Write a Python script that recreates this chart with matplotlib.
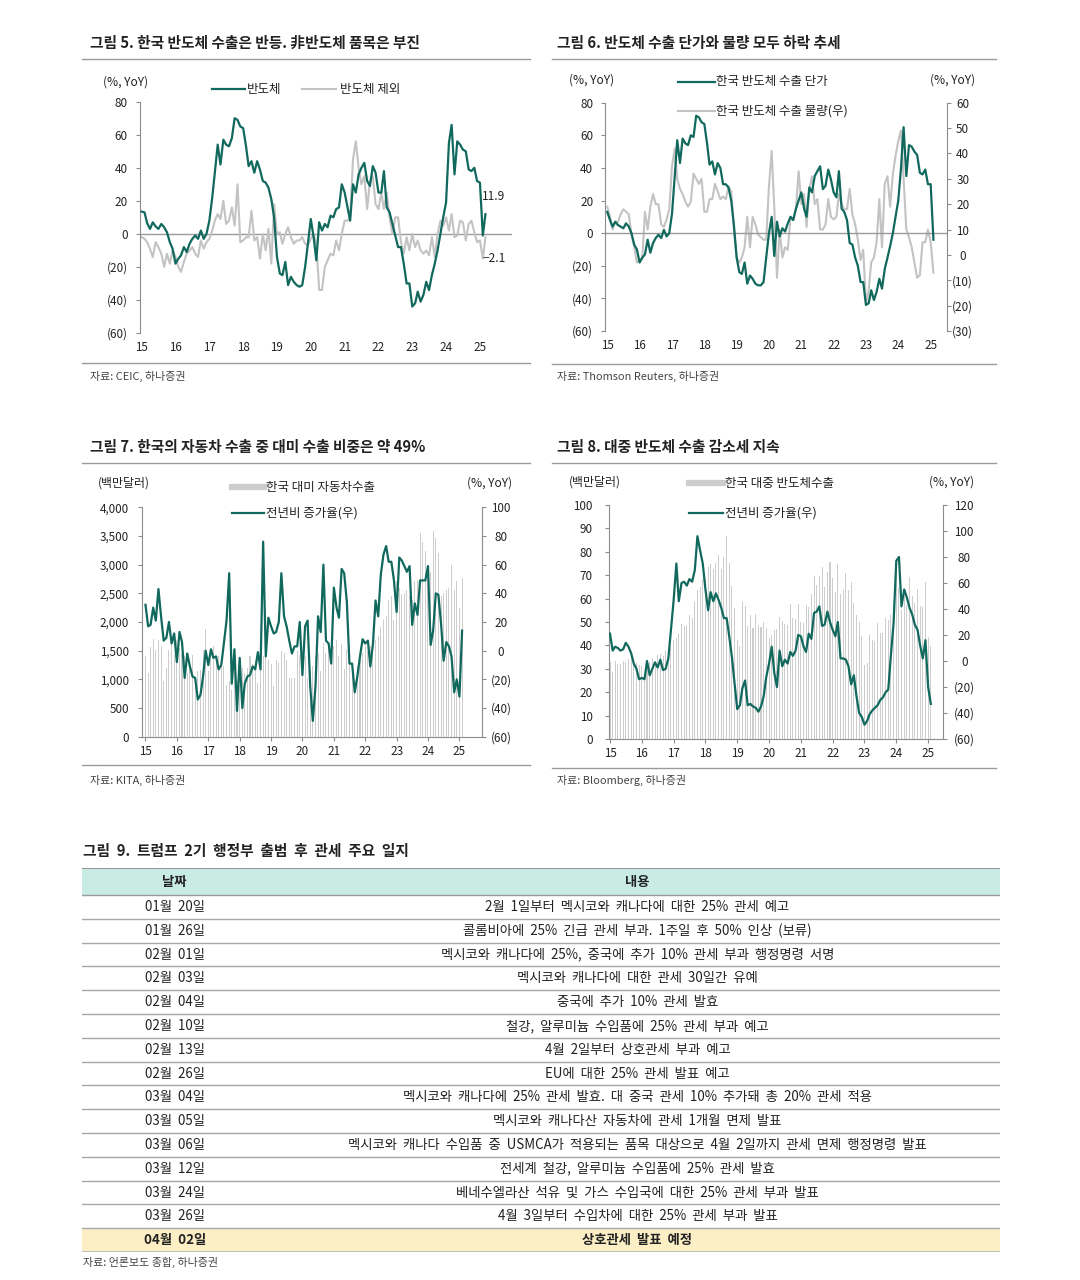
import numpy as np
import pandas as pd
import matplotlib
matplotlib.use("Agg")
import matplotlib.pyplot as plt
from matplotlib.lines import Line2D
from matplotlib.patches import Rectangle
from matplotlib.ticker import FuncFormatter

plt.rcParams['font.family'] = ['Noto Sans CJK KR', 'DejaVu Sans']

W, H = 1080, 1280
GREEN = '#11695d'
LGRAY = '#c3c3c3'
BAR = '#cdcdcd'
SPINE = '#8c8c8c'
TXT = '#222222'
TITLE_FS = 10.6
LEG_FS = 9.0
SRC_FS = 7.9
TAB_FS = 9.6

# ---- 그림 5: 반도체 / 반도체 제외 (%, YoY), 2015-01 ~ 2025-03
semi5 = [13.5, 13, 6.5, 3, 7, 4.5, 3, 6, 4, 1, -5, -9,
         -18, -15, -13, -8, -11, -6, -3, -1, -3, 2, -3, 0,
         8, 22, 37, 54, 42, 57, 54, 53, 58, 70, 69, 65,
         64, 53, 41, 44, 37, 44, 39, 32, 31, 28, 21, 10,
         -14, -24, -25, -17, -31, -26, -29, -31, -32, -31, -20, -6,
         9, -2, -16, 7, 2, 6, 4, 11, 10, 15, 16, 30,
         25, 16, 8, 30, 25, 36, 40, 43, 32, 29, 41, 37,
         25, 25, 38, 16, 13, 6, -1, -8, -8, -18, -30, -30,
         -44, -42, -35, -41, -37, -29, -34, -25, -18, -10, 0, 10,
         19, 55, 66, 36, 56, 54, 51, 50, 39, 38, 40, 32,
         31, -1, 11.9]
non_semi5 = [-2, -3, -5, -9, -14, -5, -8, -12, -20, -12, -18, -10,
             -14, -20, -23, -17, -12, -10, -8, -12, -14, -4, -9, -5,
             -3, 2, 8, 12, 9, 20, 6, 8, 16, 5, 30, -5,
             -4, -2, -2, 14, -4, -2, -15, 0, -10, 3, -18, 18,
             0, 1, -6, 0, 4, -2, -6, -4, -4, -2, -6, -7,
             -3, 0, -6, -34, -34, -20, -16, -12, -13, -4, -10, 0,
             8, 8, 10, 45, 56, 40, 30, 35, 15, 32, 35, 18,
             15, 25, 15, 25, 10, 0, 10, 10, -5, -12, -2, -10,
             0, -8, -4, -10, -12, -10, -13, -2, -14, 0, 8, 5,
             10, 2, 12, -2, -1, 8, 7, -4, 6, 8, 1, -5,
             -4, -15, -2.1]

# ---- 그림 6: 수출 단가 (좌) / 수출 물량 (우), 2015-01 ~ 2025-02
price6 = [13, 8, 4, 7, 5, 4, 3, 6, 4, 0, -7, -10,
          -18, -15, -13, -4, -12, -6, -3, -1, -3, 2, -2, 0,
          12, 35, 57, 43, 58, 55, 54, 60, 59, 72, 71, 68,
          67, 55, 42, 44, 36, 43, 40, 30, 30, 28, 20, 5,
          -15, -24, -25, -18, -31, -26, -28, -31, -32, -32, -30, -15,
          0, 10, -14, 7, -2, 3, 1, 6, 10, 8, 15, 20,
          25, 15, 10, 28, 25, 35, 38, 41, 27, 29, 39, 33,
          25, 22, 38, 15, 13, 8, -6, -7, -15, -20, -30, -30,
          -44, -43, -35, -41, -36, -28, -34, -22, -15, -8, 0, 10,
          20, 40, 65, 35, 54, 53, 50, 48, 37, 36, 39, 30,
          30, -4]
volume6 = [19, 15, 10, 13, 13, 16, 18, 17, 16, 8, 3, -3,
           -2, -1, 17, 10, 19, 24, 20, 20, 12, 11, 14, 18,
           35, 42, 30, 26, 24, 21, 19, 21, 32, 30, 28, 30,
           17, 17, 22, 22, 28, 25, 22, 23, 22, 27, 25, 10,
           -1, -3, -1, 3, 15, 3, 15, 12, 8, 7, 6, 6,
           27, 41, 19, -9, 10, -1, 3, 2, 15, 14, 18, 33,
           20, 24, 11, 26, 31, 20, 22, 10, 10, 12, 22, 15,
           14, 15, 24, 20, 18, 18, 26, 16, 12, 6, -2, 2,
           -19, -14, -3, -1, 5, 22, 3, 28, 31, 19, 32, 39,
           45, 49, 30, 10, 7, 3, -3, -9, -8, 5, 5, 10,
           5, -7]

# ---- 그림 7: 대미 자동차수출 (백만달러) / 전년비 증가율 (우)
car_us7 = [1400, 1110, 1560, 1700, 1520, 1680, 1580, 970, 1190, 1520,
           1600, 1430, 1690, 1550, 1450, 1400, 1110, 1340, 1430, 970,
           1140, 1170, 1520, 1870, 1140, 1340, 1580, 1400, 1400, 1340,
           1230, 910, 970, 820, 1400, 970, 1260, 1200, 1110, 1200,
           1400, 1260, 1170, 940, 1340, 1400, 1400, 1340, 1260, 880,
           1340, 1290, 1490, 1460, 1340, 1030, 1030, 1030, 1490, 1430,
           1230, 1400, 1030, 1170, 1230, 1400, 1460,
           1140, 1630, 1460, 1580, 1460, 1580, 1690, 1400, 1620, 1180,
           1520, 1340, 1260, 820, 1230, 1340, 1460, 1580, 1490, 1580,
           1630, 1690, 1750, 1920, 2040, 2100, 2390, 2450, 2040, 2710,
           2590, 2480, 2500, 2560, 2450, 2390, 2710, 2740, 3550, 3400,
           3230, 2970, 2880, 3590, 3460, 3200, 2450, 2500, 2560, 2590,
           2990, 2560, 2710, 2240, 2770]
car_yoy7 = [32, 17, 18, 30, 21, 43, 24, 7, 9, 20,
            5, 12, -8, 13, 6, -19, -2, -11, -18, -19,
            -34, -31, -18, 0, -10, 1, -5, -4, -13, -10,
            5, 21, 54, -23, 1, -42, -5, -40, -23, -18,
            -17, -11, -13, -1, -13, 76, -4, 23, 17, 12,
            13, 20, 54, 24, 17, 7, -2, 3, 3, 20,
            -17, 17, 21, -25, -49, -25, 24, 13, 60, 7,
            5, -9, 44, 30, 23, 57, 54, 34, -9, -9,
            -29, -18, -4, 8, 5, 7, -11, 5, 35, 24,
            53, 67, 73, 62, 62, 49, 27, 65, 63, 59,
            55, 59, 18, 33, 25, 49, 49, 49, 59, 4,
            14, 40, 39, 19, -7, 6, 3, -4, -29, -20,
            -32, 14]

# ---- 그림 8: 대중 반도체수출 (백만달러) / 전년비 증가율 (우)
chip_cn8 = [32.7, 28.6, 33.4, 31.9, 31.9, 33.4, 33, 34.1, 36.7, 34.6, 32.4, 31.7,
            31, 28.4, 31, 32.7, 34.6, 32.4, 36, 36.3, 35.3, 37.4, 34.1, 38.8,
            42.4, 43.1, 45.2, 49.2, 48.1, 48.8, 53, 51.6, 58.7, 63.7, 64.9, 68.4,
            68.3, 73.7, 74.8, 72.5, 75.1, 78.7, 72.5, 77.7, 86.9, 75.1, 65.4, 55.9,
            42.1, 39.8, 58.7, 56.9, 48.4, 53, 47.4, 53.5, 48.8, 47.8, 50.2, 47.4,
            43.1, 44.5, 46.7, 47, 52.3, 50.6, 49, 48.8, 57.8, 51.6, 51.2,
            57.8, 50, 49.5, 57.3, 56.6, 62, 69.7, 65.9, 69.7, 73.7,
            65, 71.5, 75.8, 68.7, 63, 74.8, 62, 63.7, 70.8, 63.7,
            67.3, 58, 53, 50, 44, 31.7, 32.4, 44.5, 42.4, 41.7,
            49.5, 45.5, 45.2, 51.6, 50.9, 53, 58.7, 76.5, 64.4, 55.2,
            60.9, 57.3, 69.1, 60.9, 58, 64, 56.9, 56.6, 67.3, 43.8,
            39.8]
chip_yoy8 = [21, 8, 11, 10, 8, 9, 14, 11, 6, -2,
             -6, -14, -13, -14, 0, -11, -6, -1, -5, 1,
             -7, -6, 2, 24, 47, 75, 46, 60, 61, 58,
             63, 61, 70, 96, 85, 75, 55, 39, 53, 46,
             52, 47, 41, 33, 33, 19, 3, -17, -37, -34,
             -21, -15, -34, -33, -35, -36, -39, -35, -27, -12,
             -2, 11, -9, -20, 8, -4, 1, -2, 7, 4,
             8, 20, 19, 11, 7, 21, 17, 37, 38, 42,
             27, 28, 38, 30, 24, 19, 30, 2, 2, 1,
             -4, -18, -11, -27, -40, -43,
             -49, -46, -41, -38, -36, -34, -30, -28, -24, -22,
             5, 29, 77, 80, 42, 55, 49, 41, 36, 28,
             24, 12, 2, 16, -20, -33]

# ---- 그림 9: 관세 일지
dates9 = ['01월 20일', '01월 26일', '02월 01일', '02월 03일', '02월 04일',
          '02월 10일', '02월 13일', '02월 26일', '03월 04일', '03월 05일',
          '03월 06일', '03월 12일', '03월 24일', '03월 26일', '04월 02일']
events9 = ['2월 1일부터 멕시코와 캐나다에 대한 25% 관세 예고',
           '콜롬비아에 25% 긴급 관세 부과. 1주일 후 50% 인상 (보류)',
           '멕시코와 캐나다에 25%, 중국에 추가 10% 관세 부과 행정명령 서명',
           '멕시코와 캐나다에 대한 관세 30일간 유예',
           '중국에 추가 10% 관세 발효',
           '철강, 알루미늄 수입품에 25% 관세 부과 예고',
           '4월 2일부터 상호관세 부과 예고',
           'EU에 대한 25% 관세 발표 예고',
           '멕시코와 캐나다에 25% 관세 발효. 대 중국 관세 10% 추가돼 총 20% 관세 적용',
           '멕시코와 캐나다산 자동차에 관세 1개월 면제 발표',
           '멕시코와 캐나다 수입품 중 USMCA가 적용되는 품목 대상으로 4월 2일까지 관세 면제 행정명령 발표',
           '전세계 철강, 알루미늄 수입품에 25% 관세 발효',
           '베네수엘라산 석유 및 가스 수입국에 대한 25% 관세 부과 발표',
           '4월 3일부터 수입차에 대한 25% 관세 부과 발표',
           '상호관세 발표 예정']

YEARS = list(range(2015, 2026))


def rect(l, t, r, b):
    return [l / W, 1 - b / H, (r - l) / W, (b - t) / H]


def ftext(x, y, s, **kw):
    kw.setdefault('color', TXT)
    kw.setdefault('va', 'center')
    fig.text(x / W, 1 - y / H, s, **kw)


def fline(x1, x2, y, color='#9a9a9a', lw=1.0):
    fig.add_artist(Line2D([x1 / W, x2 / W], [1 - y / H, 1 - y / H],
                          transform=fig.transFigure, color=color, lw=lw))


def wide(s):
    # the report uses roomy word spacing
    return s.replace(' ', '  ')


def paren(v, pos):
    v = int(round(v))
    return f'({abs(v)})' if v < 0 else f'{v}'


def months(n):
    return pd.date_range('2015-01-01', periods=n, freq='MS')


def style_x(ax, left, right, ticks=False):
    ax.set_xlim(pd.Timestamp(left), pd.Timestamp(right))
    ax.set_xticks(pd.to_datetime([f'{y}-01-01' for y in YEARS]))
    ax.set_xticklabels([f'{y % 100}' for y in YEARS])
    if ticks:
        ax.tick_params(axis='x', length=3, width=0.8, color=SPINE, pad=3,
                       labelsize=8.4, labelcolor=TXT)
    else:
        ax.tick_params(axis='x', length=0, pad=5.5, labelsize=8.4, labelcolor=TXT)


def style_y(ax, side, pad):
    ax.tick_params(axis='y', length=3, width=0.8, color=SPINE, pad=pad,
                   labelsize=8.4, labelcolor=TXT)
    for s in ax.spines:
        ax.spines[s].set_visible(False)
    ax.spines[side].set_visible(True)
    ax.spines[side].set_color(SPINE)
    ax.spines[side].set_linewidth(0.8)


def center_right_labels(ax):
    for lab in ax.get_yticklabels():
        lab.set_horizontalalignment('center')


fig = plt.figure(figsize=(W / 100, H / 100), dpi=100)
fig.patch.set_facecolor('white')

# ================= 그림 5 =================
ftext(90, 43, '그림 5. 한국 반도체 수출은 반등. 非반도체 품목은 부진', fontsize=TITLE_FS, fontweight='bold')
fline(82, 530, 59)
fline(82, 530, 363)
ftext(90, 376, '자료: CEIC, 하나증권', fontsize=SRC_FS, color='#444444')

ax5 = fig.add_axes(rect(140, 101.7, 512, 333))
d5 = months(len(semi5))
ax5.axhline(0, color='#9a9a9a', lw=1.0, zorder=1)
ax5.plot(d5, non_semi5, color=LGRAY, lw=1.5, zorder=2)
ax5.plot(d5, semi5, color=GREEN, lw=1.6, zorder=3)
ax5.set_ylim(-60, 80)
ax5.set_yticks(range(-60, 81, 20))
ax5.yaxis.set_major_formatter(FuncFormatter(paren))
style_x(ax5, '2014-12-14', '2025-12-13')
style_y(ax5, 'left', 6)
ax5.annotate(f'{semi5[-1]}', xy=(d5[-1], semi5[-1]), xytext=(6, 13),
             textcoords='offset points', ha='center', va='center', fontsize=8.6, color=TXT)
ax5.annotate(f'{non_semi5[-1]}'.replace('-', '−'), xy=(d5[-1], non_semi5[-1]), xytext=(6, -15.5),
             textcoords='offset points', ha='center', va='center', fontsize=8.6, color=TXT)
ftext(103, 82, '(%, YoY)', fontsize=8.6)
fline(212, 245, 89, color=GREEN, lw=1.6)
ftext(247, 89, '반도체', fontsize=LEG_FS)
fline(302, 336, 89, color=LGRAY, lw=1.5)
ftext(340, 89, '반도체 제외', fontsize=LEG_FS)

# ================= 그림 6 =================
ftext(557, 43, '그림 6. 반도체 수출 단가와 물량 모두 하락 추세', fontsize=TITLE_FS, fontweight='bold')
fline(552, 996, 59)
fline(552, 996, 364)
ftext(557, 376, '자료: Thomson Reuters, 하나증권', fontsize=SRC_FS, color='#444444')

ax6 = fig.add_axes(rect(605, 102.7, 946.7, 331))
ax6b = ax6.twinx()
d6 = months(len(price6))
ax6.axhline(0, color='#9a9a9a', lw=1.0, zorder=1)
ax6b.plot(d6, volume6, color=LGRAY, lw=1.5)
ax6.plot(d6, price6, color=GREEN, lw=1.6, zorder=3)
ax6.set_zorder(ax6b.get_zorder() + 1)
ax6.patch.set_visible(False)
ax6.set_ylim(-60, 80)
ax6.set_yticks(range(-60, 81, 20))
ax6b.set_ylim(-30, 60)
ax6b.set_yticks(range(-30, 61, 10))
ax6.yaxis.set_major_formatter(FuncFormatter(paren))
ax6b.yaxis.set_major_formatter(FuncFormatter(paren))
style_x(ax6, '2014-12-06', '2025-07-01')
style_y(ax6, 'left', 5.5)
style_y(ax6b, 'right', 8.5)
center_right_labels(ax6b)
ftext(569, 80, '(%, YoY)', fontsize=8.6)
ftext(975, 80, '(%, YoY)', fontsize=8.6, ha='right')
fline(678, 715, 82, color=GREEN, lw=1.6)
ftext(716, 82, '한국 반도체 수출 단가', fontsize=LEG_FS)
fline(678, 715, 111, color=LGRAY, lw=1.5)
ftext(716, 111, '한국 반도체 수출 물량(우)', fontsize=LEG_FS)

# ================= 그림 7 =================
ftext(90, 447, '그림 7. 한국의 자동차 수출 중 대미 수출 비중은 약 49%', fontsize=TITLE_FS, fontweight='bold')
fline(82, 530, 463)
fline(82, 530, 765)
ftext(90, 780, '자료: KITA, 하나증권', fontsize=SRC_FS, color='#444444')

ax7 = fig.add_axes(rect(141.7, 507.3, 482.3, 736.7))
ax7b = ax7.twinx()
d7 = months(len(car_us7))
ax7.bar(d7, car_us7, width=12, color=BAR, linewidth=0)
ax7b.plot(d7, car_yoy7, color=GREEN, lw=1.6)
ax7.set_ylim(0, 4000)
ax7.set_yticks(range(0, 4001, 500))
ax7.yaxis.set_major_formatter(FuncFormatter(lambda v, p: f'{int(v):,}'))
ax7b.set_ylim(-60, 100)
ax7b.set_yticks(range(-60, 101, 20))
ax7b.yaxis.set_major_formatter(FuncFormatter(paren))
style_x(ax7, '2014-11-18', '2025-09-24', ticks=True)
style_y(ax7, 'left', 6)
ax7.spines['bottom'].set_visible(True)
ax7.spines['bottom'].set_color(SPINE)
ax7.spines['bottom'].set_linewidth(0.8)
style_y(ax7b, 'right', 10.5)
center_right_labels(ax7b)
ftext(98, 483, '(백만달러)', fontsize=8.6)
ftext(512, 483, '(%, YoY)', fontsize=8.6, ha='right')
fline(232, 264, 487, color=BAR, lw=4.5)
ftext(266, 487, '한국 대미 자동차수출', fontsize=LEG_FS)
fline(232, 264, 513, color=GREEN, lw=1.6)
ftext(266, 513, '전년비 증가율(우)', fontsize=LEG_FS)

# ================= 그림 8 =================
ftext(557, 447, '그림 8. 대중 반도체 수출 감소세 지속', fontsize=TITLE_FS, fontweight='bold')
fline(552, 996, 463)
fline(552, 996, 768)
ftext(557, 780, '자료: Bloomberg, 하나증권', fontsize=SRC_FS, color='#444444')

ax8 = fig.add_axes(rect(609.3, 505, 943.3, 739))
ax8b = ax8.twinx()
d8 = months(len(chip_cn8))
ax8.bar(d8, chip_cn8, width=12, color=BAR, linewidth=0)
ax8b.plot(d8, chip_yoy8, color=GREEN, lw=1.6)
ax8.set_ylim(0, 100)
ax8.set_yticks(range(0, 101, 10))
ax8b.set_ylim(-60, 120)
ax8b.set_yticks(range(-60, 121, 20))
ax8b.yaxis.set_major_formatter(FuncFormatter(paren))
style_x(ax8, '2014-12-24', '2025-06-24', ticks=True)
style_y(ax8, 'left', 9)
ax8.spines['bottom'].set_visible(True)
ax8.spines['bottom'].set_color(SPINE)
ax8.spines['bottom'].set_linewidth(0.8)
style_y(ax8b, 'right', 12)
center_right_labels(ax8b)
ftext(569, 482, '(백만달러)', fontsize=8.6)
ftext(974, 482, '(%, YoY)', fontsize=8.6, ha='right')
fline(689, 723, 483, color=BAR, lw=4.5)
ftext(725, 483, '한국 대중 반도체수출', fontsize=LEG_FS)
fline(689, 723, 513, color=GREEN, lw=1.6)
ftext(725, 513, '전년비 증가율(우)', fontsize=LEG_FS)

# ================= 그림 9 (표) =================
ftext(83, 851, wide('그림 9. 트럼프 2기 행정부 출범 후 관세 주요 일지'), fontsize=TITLE_FS, fontweight='bold')
ftext(83, 1262, '자료: 언론보도 종합, 하나증권', fontsize=SRC_FS, color='#444444')

axt = fig.add_axes(rect(82, 868, 1000, 1252))
n = len(dates9)
hh = 27 / 23.75
axt.set_xlim(0, 1)
axt.set_ylim(hh + n, 0)
axt.axis('off')
axt.add_patch(Rectangle((0, 0), 1, hh, color='#c8ebe4', lw=0))
axt.add_patch(Rectangle((0, hh + n - 1), 1, 1, color='#fcefc6', lw=0))
axt.axhline(0, color='#8f8f8f', lw=1.3)
axt.axhline(hh, color='#9a9a9a', lw=1.0)
for k in range(1, n + 1):
    axt.axhline(hh + k, color='#a8a8a8' if k < n else '#b0b0b0', lw=1.0 if k < n else 1.8)
axt.text(0.101, hh / 2, '날짜', ha='center', va='center', fontsize=TAB_FS, fontweight='bold', color=TXT)
axt.text(0.605, hh / 2, '내용', ha='center', va='center', fontsize=TAB_FS, fontweight='bold', color=TXT)
for k, (dt, ev) in enumerate(zip(dates9, events9)):
    wt = 'bold' if k == n - 1 else 'normal'
    axt.text(0.101, hh + k + 0.5, wide(dt), ha='center', va='center', fontsize=TAB_FS, fontweight=wt, color=TXT)
    axt.text(0.605, hh + k + 0.5, wide(ev), ha='center', va='center', fontsize=TAB_FS, fontweight=wt, color=TXT)

fig.savefig('out.png', dpi=100, facecolor='white')
